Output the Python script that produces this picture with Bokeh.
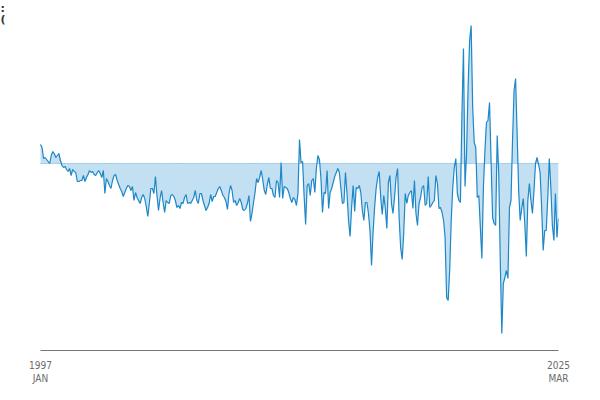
from bokeh.plotting import figure
from bokeh.models import Range1d, LinearAxis, FixedTicker, Label
from bokeh.embed import file_html
from bokeh.resources import INLINE

# Monthly series, Jan 1997 .. Mar 2025 (relative to the zero baseline)
values = [
    19, 16, 5, 6, 4, 2, 0, 8, 12, 10,
    6, 8, 10, 3, -2, -4, -3, -6, -8, -5,
    -12, -6, -8, -9, -18, -18, -17, -17, -12, -18,
    -14, -11, -7, -9, -8, -11, -12, -9, -7, -10,
    -14, -7, -30, -15, -18, -22, -25, -17, -12, -11,
    -17, -21, -25, -28, -33, -29, -25, -22, -23, -27,
    -23, -37, -29, -34, -37, -40,
    -34, -31, -35, -43, -53, -40, -25, -25, -30, -13,
    -32, -47, -35, -27, -39, -49, -37, -39, -40, -32,
    -31, -33, -37, -44, -42, -45, -39, -40, -34, -31,
    -40, -39, -40, -37, -34, -27, -37, -40, -30, -30,
    -37, -42, -47, -44, -40, -31, -38, -33, -33, -29,
    -25, -23, -27, -32, -34, -38, -46, -30, -22, -27,
    -39, -37, -42, -39, -35,
    -39, -46, -47, -45, -40, -32, -58, -50, -39, -29,
    -15, -19, -14, -7, -16, -27, -31, -21, -14, -25,
    -25, -32, -34, -17, -19, -34, 1, -35, -23, -24,
    -25, -29, -35, -39, -34, -36, -42, -30, 24, 1,
    2, -32, -61, -22, -20, -32, -17, -15, -29, -5,
    8, 4, -15, -49, -29, -30, -7, -45, -29, -25,
    -19, -13, -9, -5, -9,
    -25, -40, -39, -9, -30, -57, -73, -44, -22, -48,
    -24, -25, -22, -29, -47, -57, -39, -39, -50, -67,
    -102, -69, -44, -25, -14, -8, -34, -51, -32, -45,
    -65, -19, -12, -40, -50, -34, -14, -5, -54, -84,
    -96, -70, -30, -40, -32, -29, -27, -45, -17, -50,
    -62, -40, -34, -24, -22, -42, -40, -13, -44, -42,
    -39, -37, -12, -20, -45, -44, -49, -57, -74,
    -134, -137, -107, -57, -24, -4, 5, -30, -37, -39,
    50, 115, -23, 10, 76, 123, 138, 56, 21, 16,
    -34, -32, -64, -95, -24, 13, 41, 43, 61, 3,
    -54, -60, -62, 28, -10, -97, -170, -120, -114, -107,
    -115, -44, -37, 23, 73, 85, 30, -27, -57, -45,
    -35, -60, -93, -37, -20, -37, -50, -27, 0, 6,
    -1, -9, -44, -87, -67, -67, -34, 5, -24, -62,
    -77, -30, -74, -55,
]
months = list(range(len(values)))
baseline = [0 for _ in months]
tick_positions = [months[0], months[-1]]
tick_labels = ["1997\nJAN", "2025\nMAR"]
title_bits = [":", "("]

LINE = "#1d87c8"
FILL = "#c3e0f2"

# frame spans the whole canvas except the right/bottom margins so the
# top-left title fragments are not clipped
p = figure(width=592, height=392, output_backend="svg", toolbar_location=None,
           x_range=Range1d(-26.1, months[-1]), y_range=Range1d(-187, 163),
           x_axis_type=None, y_axis_type=None,
           min_border_left=0, min_border_right=34, min_border_top=0, min_border_bottom=42)
p.outline_line_color = None
p.background_fill_color = "white"
p.border_fill_color = "white"

p.varea(x=months, y1=values, y2=baseline, fill_color=FILL, fill_alpha=1.0)
p.line(months, baseline, line_color="#9fcbe6", line_width=1)
p.line(months, values, line_color=LINE, line_width=1.2)

ax = LinearAxis(ticker=FixedTicker(ticks=tick_positions),
                major_label_overrides={t: l for t, l in zip(tick_positions, tick_labels)})
ax.bounds = (months[0], months[-1])
ax.axis_line_color = "#777777"
ax.axis_line_width = 1
ax.major_tick_line_color = None
ax.minor_tick_line_color = None
ax.major_tick_out = 0
ax.major_tick_in = 0
ax.major_label_standoff = 9
ax.major_label_text_color = "#6b6b6b"
ax.major_label_text_font = "DejaVu Sans Condensed"
ax.major_label_text_font_size = "10px"
p.add_layout(ax, "below")

for t, base_px in zip(title_bits, [8, 19]):
    p.add_layout(Label(x=0, x_units="screen", y=163 - base_px, y_units="data",
                       text=t, text_font="DejaVu Sans",
                       text_font_size="11px", text_font_style="bold", text_color="#333333",
                       text_baseline="alphabetic", text_align="left", level="overlay"))

open("out.html", "w").write(file_html(p, INLINE))
